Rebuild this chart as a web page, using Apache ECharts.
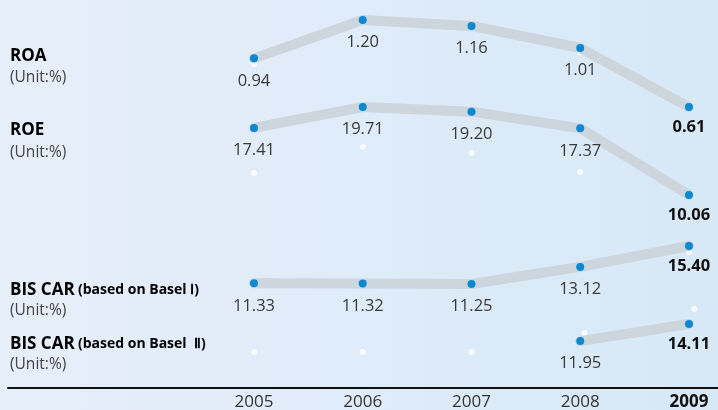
<!DOCTYPE html>
<html>
<head>
<meta charset="utf-8">
<script src="https://cdn.jsdelivr.net/npm/echarts@6/dist/echarts.min.js"></script>
<style>
  html, body { margin: 0; padding: 0; }
  #chart { width: 718px; height: 410px; }
</style>
</head>
<body>
<div id="chart"></div>
<script>
// Years along the bottom axis
const years = [2005, 2006, 2007, 2008, 2009];

// Ratio series (percent)
const roa = [0.94, 1.20, 1.16, 1.01, 0.61];
const roe = [17.41, 19.71, 19.20, 17.37, 10.06];
const bisBasel1 = [11.33, 11.32, 11.25, 13.12, 15.40];
const bisBasel2 = [null, null, null, 11.95, 14.11];

// Small white accent dots scattered beneath the lines
const roaDots = [[2005, 0.90], [2008, 0.98]];
const roeDots = [[2005, 12.47], [2006, 15.32], [2007, 14.67], [2008, 12.58]];
const bis1Dots = [[2009, 14.75]];
const bis2Dots = [[2005, 10.57], [2006, 10.57], [2007, 10.57], [2008.04, 12.97], [2009.05, 16.01]];

// Row captions on the left
const rowNames = ['ROA', 'ROE', 'BIS CAR', 'BIS CAR'];
const rowNotes = ['', '', '(based on Basel Ⅰ)', '(based on Basel  Ⅱ)'];
const unitText = '(Unit:%)';

const FONT = '"Open Sans", "Noto Sans", sans-serif';
const LAST = years[years.length - 1];

// Each row uses its own hidden value scale so that the four lines stack vertically
const scales = [
  { min: -1.295, max: 1.3356 },
  { min: -11.10, max: 31.44 },
  { min: -0.10, max: 42.26 },
  { min: 6.01, max: 55.12 }
];

function lineSeries(values, axisIndex) {
  const data = [];
  values.forEach((v, i) => {
    if (v == null) return;
    const last = years[i] === LAST;
    data.push({
      value: [years[i], v],
      label: last
        ? { fontWeight: 'bold', color: '#111111', distance: 8 }
        : { fontWeight: 'normal', color: '#3a3a3a' }
    });
  });
  return {
    type: 'line',
    yAxisIndex: axisIndex,
    data: data,
    z: 3,
    symbol: 'circle',
    symbolSize: 8,
    itemStyle: { color: '#0a88d2', borderWidth: 0 },
    lineStyle: { color: '#cdd5dd', width: 10, cap: 'round', join: 'round' },
    label: {
      show: true,
      position: 'bottom',
      distance: 10,
      fontFamily: FONT,
      fontSize: 16.5,
      formatter: p => p.value[1].toFixed(2)
    },
    emphasis: { disabled: true },
    animation: false
  };
}

function dotSeries(points, axisIndex) {
  return {
    type: 'scatter',
    yAxisIndex: axisIndex,
    data: points,
    z: 2,
    symbol: 'circle',
    symbolSize: 6,
    itemStyle: { color: '#ffffff' },
    silent: true,
    animation: false
  };
}

const captionY = [56, 130, 290, 344];
const unitY = [78, 153, 311, 365];

const graphics = [];
rowNames.forEach((name, i) => {
  graphics.push({
    type: 'text',
    x: 10,
    y: captionY[i],
    style: {
      text: rowNotes[i] ? '{b|' + name + '} {s|' + rowNotes[i] + '}' : '{b|' + name + '}',
      verticalAlign: 'middle',
      rich: {
        b: { fontFamily: FONT, fontSize: 17, fontWeight: 'bold', color: '#111111' },
        s: { fontFamily: FONT, fontSize: 14, fontWeight: 'bold', color: '#111111' }
      }
    }
  });
  graphics.push({
    type: 'text',
    x: 10,
    y: unitY[i],
    style: {
      text: unitText,
      verticalAlign: 'middle',
      font: '15.5px ' + FONT,
      fill: '#444444'
    }
  });
});

const chart = echarts.init(document.getElementById('chart'), null, { renderer: 'canvas' });

chart.setOption({
  animation: false,
  backgroundColor: new echarts.graphic.LinearGradient(0, 0, 1, 0, [
    { offset: 0, color: '#e6eef9' },
    { offset: 0.5, color: '#dfecf9' },
    { offset: 1, color: '#d7e8f6' }
  ]),
  grid: { left: 8, right: 0, top: 0, bottom: 22, containLabel: false, outerBoundsMode: 'none' },
  xAxis: {
    type: 'value',
    min: 2002.738,
    max: 2009.267,
    splitLine: { show: false },
    axisLine: { show: true, onZero: false, lineStyle: { color: '#111111', width: 2 } },
    axisTick: { show: false },
    axisLabel: {
      customValues: years,
      margin: 6,
      fontFamily: FONT,
      fontSize: 17,
      color: '#333333',
      formatter: v => (v === LAST ? '{b|' + v + '}' : String(v)),
      rich: { b: { fontFamily: FONT, fontSize: 17, fontWeight: 'bold', color: '#111111' } }
    }
  },
  yAxis: scales.map(s => ({
    type: 'value',
    min: s.min,
    max: s.max,
    show: false,
    splitLine: { show: false }
  })),
  series: [
    dotSeries(roaDots, 0),
    dotSeries(roeDots, 1),
    dotSeries(bis1Dots, 2),
    dotSeries(bis2Dots, 3),
    lineSeries(roa, 0),
    lineSeries(roe, 1),
    lineSeries(bisBasel1, 2),
    lineSeries(bisBasel2, 3)
  ],
  graphic: graphics
});
</script>
</body>
</html>
